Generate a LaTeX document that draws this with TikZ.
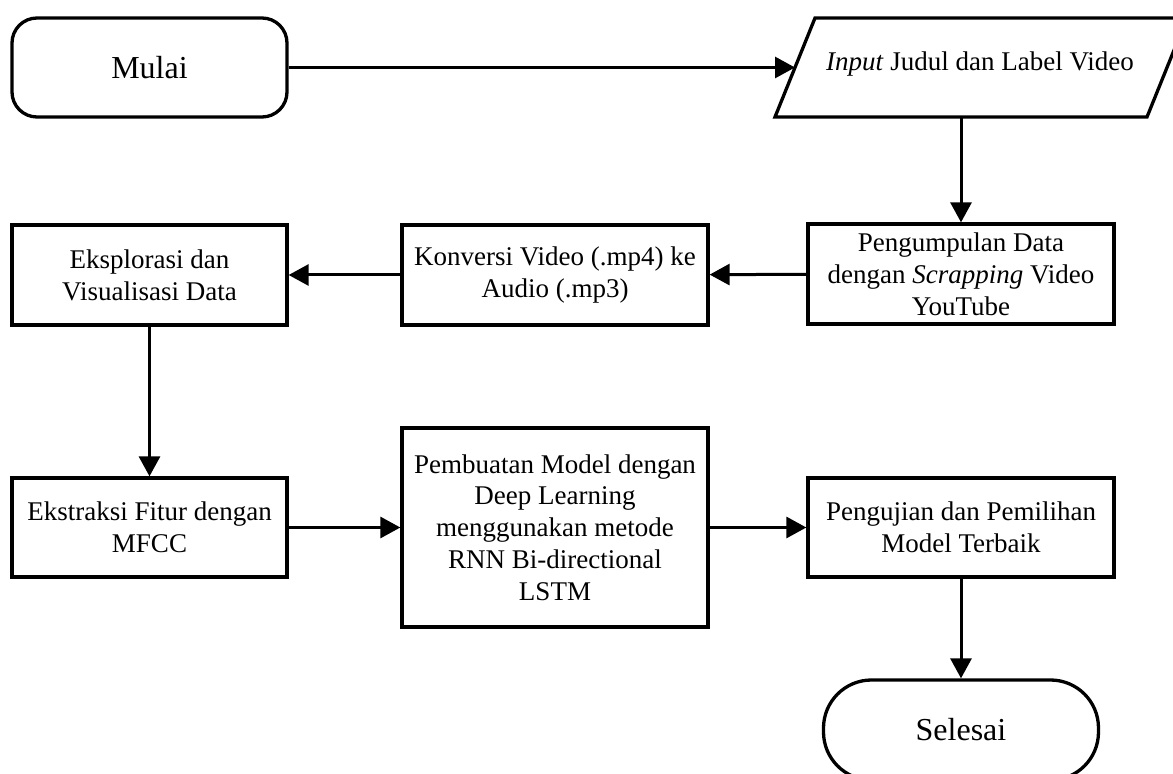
\documentclass[tikz,border=0pt]{standalone}
\usepackage{fontspec}
\setmainfont{Liberation Serif}
\usetikzlibrary{arrows.meta}

\tikzset{
  process/.style={draw, line width=1.65pt, align=center, inner sep=2pt,
    font=\fontsize{13.5}{15.9}\selectfont, minimum width=153pt, minimum height=50pt},
  terminal/.style={draw, line width=1.65pt, rounded corners=12.5pt,
    font=\fontsize{16}{19}\selectfont, minimum width=137.5pt, minimum height=49.5pt},
  iotext/.style={inner sep=2pt, font=\fontsize{13.5}{15.9}\selectfont},
  flow/.style={line width=1.5pt, -{Triangle[length=10pt, width=10.5pt]}},
}

\begin{document}
\begin{tikzpicture}[x=0.5pt, y=-0.5pt]
    \useasboundingbox (0,0) rectangle (1173,774);
    \clip (0,0) rectangle (1173,774);

    \node[terminal] (mulai) at (149.5,67.5) {Mulai};

    % Input (jajaran genjang)
    \draw[line width=1.65pt] (775,117) -- (815,18) -- (1187,18) -- (1147,117) -- cycle;
    \node[iotext] (input) at (980,64) {\textit{Input} Judul dan Label Video};
    \coordinate (inputleft) at (795,67.5);
    \coordinate (inputbottom) at (961,117);

    \node[process, minimum width=137.5pt] (eksplorasi) at (149.5,275) {Eksplorasi dan\\Visualisasi Data};
    \node[process] (konversi) at (555,275) {Konversi Video (.mp4) ke\\Audio (.mp3)};
    \node[process] (pengumpulan) at (961,274) {Pengumpulan Data\\dengan \textit{Scrapping} Video\\YouTube};

    \node[process, minimum width=137.5pt, minimum height=49.5pt] (ekstraksi) at (149.5,527.5) {Ekstraksi Fitur dengan\\MFCC};
    \node[process, minimum height=99.5pt] (pembuatan) at (555,527.5) {Pembuatan Model dengan\\Deep Learning\\menggunakan metode\\RNN Bi-directional\\LSTM};
    \node[process, minimum height=49.5pt] (pengujian) at (961,527.5) {Pengujian dan Pemilihan\\Model Terbaik};

    \node[terminal, rounded corners=24pt, minimum height=50pt] (selesai) at (961,730) {Selesai};

    % Alur proses
    \draw[flow] (mulai) -- (inputleft);
    \draw[flow] (inputbottom) -- (pengumpulan);
    \draw[flow] (pengumpulan) -- (konversi);
    \draw[flow] (konversi) -- (eksplorasi);
    \draw[flow] (eksplorasi) -- (ekstraksi);
    \draw[flow] (ekstraksi) -- (pembuatan);
    \draw[flow] (pembuatan) -- (pengujian);
    \draw[flow] (pengujian) -- (selesai);
\end{tikzpicture}
\end{document}
